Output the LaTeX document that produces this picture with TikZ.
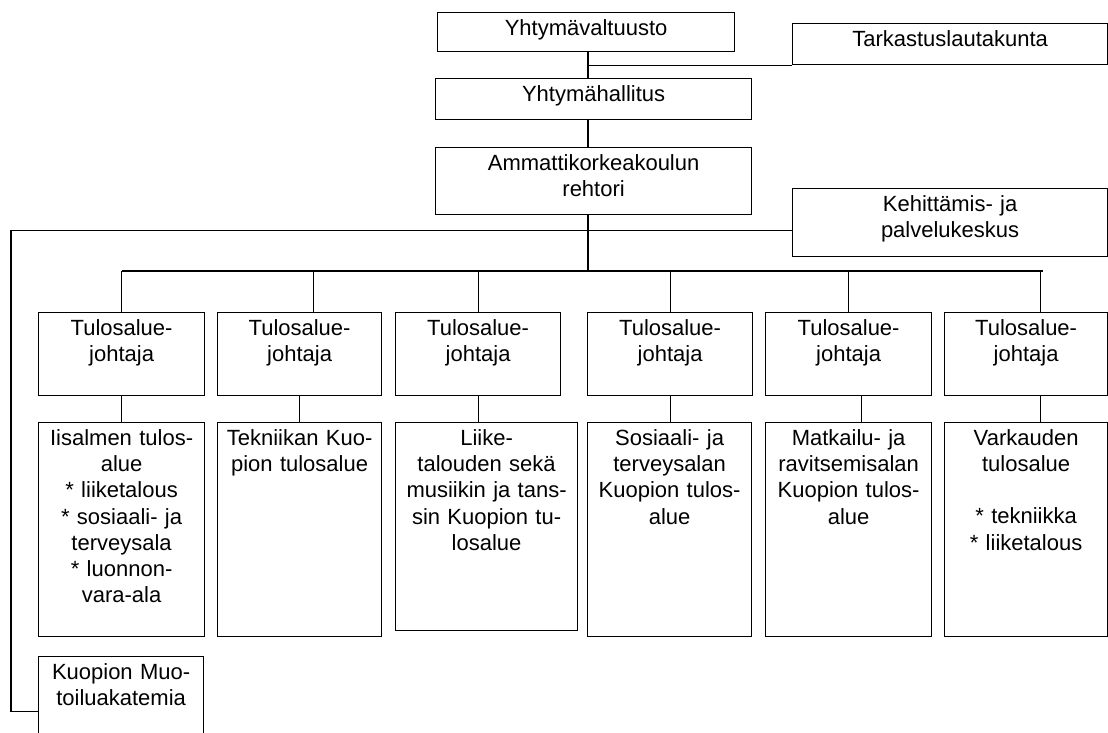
\documentclass[tikz,border=0pt]{standalone}
\usepackage{fontspec}
\setmainfont{Liberation Sans}
\begin{document}
\begin{tikzpicture}[x=1pt,y=-1pt,line width=1.2pt,
  box/.style={draw,inner sep=0pt,anchor=north west,align=center,text height=22.5pt,font=\fontsize{22}{26.3}\selectfont}]
\useasboundingbox (0,0) rectangle (1108,732);
\clip (0,0) rectangle (1108,732);
% top of the organisation
\node[box,text width=297pt,text depth=16.5pt] (valt) at (437,12) {Yhtymävaltuusto};
\node[box,text width=315pt,text depth=18.5pt] (tark) at (792,23) {Tarkastuslautakunta};
\node[box,text width=316pt,text depth=18.5pt] (hall) at (435,78) {Yhtymähallitus};
\node[box,text width=316pt,text depth=44.5pt] (rehtori) at (435,147) {Ammattikorkeakoulun\\rehtori};
\node[box,text width=315pt,text depth=45.5pt] (kehit) at (792,188) {Kehittämis- ja\\palvelukeskus};
% tulosalueet
\foreach \n/\x/\w in {1/38/166,2/217/164,3/395/165,4/587/165,5/765/166,6/944/163}
  \node[box,text width=\w pt,text depth=60.5pt] (j\n) at (\x,312) {Tulosalue-\\johtaja};
\node[box,text width=166pt,text depth=191.5pt] (a1) at (38,422) {Iisalmen tulos-\\alue\\{*} liiketalous\\{*} sosiaali- ja\\terveysala\\{*} luonnon-\\vara-ala};
\node[box,text width=164pt,text depth=191.5pt] (a2) at (217,422) {Tekniikan Kuo-\\pion tulosalue};
\node[box,text width=182pt,text depth=185.5pt] (a3) at (395,422) {Liike-\\talouden sekä\\musiikin ja tans-\\sin Kuopion tu-\\losalue};
\node[box,text width=164pt,text depth=191.5pt] (a4) at (587,422) {Sosiaali- ja\\terveysalan\\Kuopion tulos-\\alue};
\node[box,text width=166pt,text depth=191.5pt] (a5) at (765,422) {Matkailu- ja\\ravitsemisalan\\Kuopion tulos-\\alue};
\node[box,text width=163pt,text depth=191.5pt] (a6) at (944,422) {Varkauden\\tulosalue\\[26pt]{*} tekniikka\\{*} liiketalous};
\node[box,text width=165pt,text depth=87.5pt] (muot) at (38,656) {Kuopion Muo-\\toiluakatemia};
% lines
\coordinate (spine) at (588,0);
\coordinate (bus) at (588,271);
\coordinate (busend) at (1043,271);
\draw (spine |- valt.south) -- (spine |- hall.north);
\draw (spine |- tark.south) -- (tark.south west);
\draw (spine |- hall.south) -- (spine |- rehtori.north);
\draw (spine |- rehtori.south) -- (bus);
\draw ([yshift=-8pt]kehit.west) -| ([xshift=-27pt]muot.west) -- (muot.west);
\draw (j1.north |- bus) -- (busend);
\foreach \n/\dx in {1/0,2/14,3/0,4/0,5/0,6/14.5}
  \draw ([xshift=\dx pt]j\n.north) -- ([xshift=\dx pt]j\n.north |- bus);
\foreach \n/\dx in {1/0,2/0,3/0,4/0,5/13,6/14.5}
  \draw ([xshift=\dx pt]j\n.south) -- ([xshift=\dx pt]j\n.south |- a\n.north);
\end{tikzpicture}
\end{document}
